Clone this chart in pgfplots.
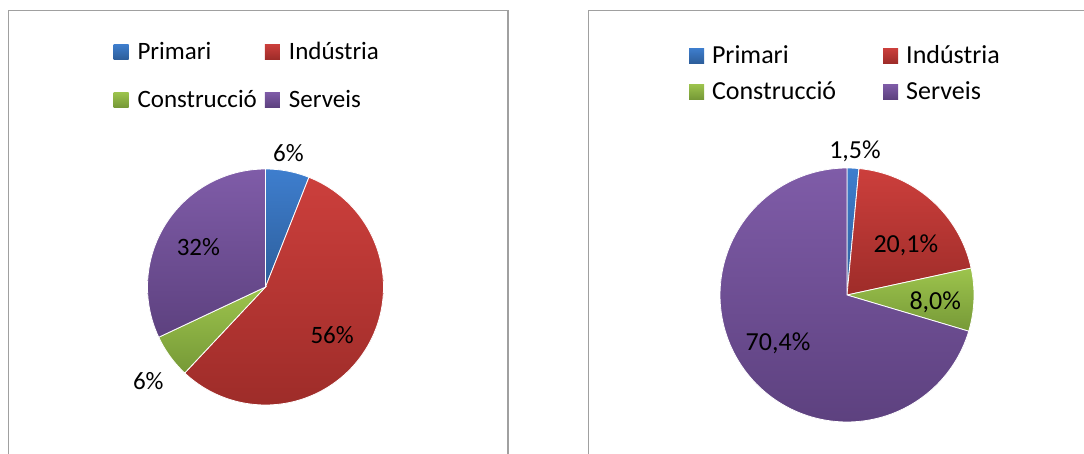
\documentclass[border=0pt]{standalone}
\usepackage{pgfplots}
\pgfplotsset{compat=1.18}
\usepackage{pgfplotstable}
\usepackage{fontspec}
\setmainfont{Carlito}

\definecolor{priT}{HTML}{3E7ECE}
\definecolor{priB}{HTML}{2D5E9B}
\definecolor{indT}{HTML}{CC3F3C}
\definecolor{indB}{HTML}{9E2C29}
\definecolor{conT}{HTML}{9DC44D}
\definecolor{conB}{HTML}{769937}
\definecolor{serT}{HTML}{7F5CA8}
\definecolor{serB}{HTML}{5D417F}
\definecolor{frame}{HTML}{A0A0A0}

\tikzset{
 slice0/.style={top color=priT,bottom color=priB},
 slice1/.style={top color=indT,bottom color=indB},
 slice2/.style={top color=conT,bottom color=conB},
 slice3/.style={top color=serT,bottom color=serB},
}

% value = share in percent; lx ly = label position (radius units)
\pgfplotstableread{
name value label lx ly
Primari 6 6 0.195 1.062
Indústria 56 56 0.565 -0.483
Construcció 6 6 -0.993 -0.867
Serveis 32 32 -0.569 0.271
}\leftdata

\pgfplotstableread{
name value label lx ly
Primari 1.5 1,5 0.063 1.071
Indústria 20.1 20,1 0.463 0.333
Construcció 8.0 8,0 0.695 -0.118
Serveis 70.4 70,4 -0.543 -0.439
}\rightdata

\newcommand\drawpie[1]{%
 \pgfplotstablegetrowsof{#1}%
 \pgfmathtruncatemacro\pieN{\pgfplotsretval-1}%
 \def\cum{0}%
 \pgfplotsforeachungrouped \sliceidx in {0,...,\pieN}{%
   \pgfplotstablegetelem{\sliceidx}{value}\of{#1}\let\pval\pgfplotsretval
   \pgfplotstablegetelem{\sliceidx}{name}\of{#1}\let\pnm\pgfplotsretval
   \pgfplotstablegetelem{\sliceidx}{label}\of{#1}\let\plab\pgfplotsretval
   \pgfplotstablegetelem{\sliceidx}{lx}\of{#1}\let\plx\pgfplotsretval
   \pgfplotstablegetelem{\sliceidx}{ly}\of{#1}\let\ply\pgfplotsretval
   \pgfmathsetmacro\psa{90-3.6*\cum}%
   \pgfmathsetmacro\cum{\cum+\pval}%
   \pgfmathsetmacro\psb{90-3.6*\cum}%
   \edef\temp{%
     \noexpand\addplot[slice\sliceidx,draw=white,line width=0.8pt,domain=\psb:\psa,samples=120] ({cos(x)},{sin(x)}) -- (axis cs:0,0) -- cycle;
     \noexpand\addlegendentry{\pnm}
     \noexpand\node[anchor=base] at (axis cs:\plx,\ply) {\plab\noexpand\%};
   }\temp
 }%
}

\pgfplotsset{
 pieaxis/.style={
  hide axis, scale only axis, clip=false,
  xmin=-1,xmax=1,ymin=-1,ymax=1,
  legend columns=2,
  legend cell align=left,
  legend image code/.code={\path[##1,draw=none] (0pt,-6pt) rectangle (15pt,9pt);},
 }
}

\begin{document}
\begin{tikzpicture}[font=\fontsize{25}{30}\selectfont]
\path[use as bounding box] (0,0) rectangle (1084pt,453pt);
\draw[frame,line width=1.5pt] (8.5pt,442.5pt) rectangle (508pt,-20pt);
\draw[frame,line width=1.5pt] (588.5pt,442.5pt) rectangle (1110pt,-20pt);

\begin{axis}[pieaxis,
  width=236pt,height=236pt,
  at={(265.5pt,166pt)},anchor=center,
  legend style={draw=none,fill=none,at={(-0.144,1.542)},anchor=north west,
    inner sep=0pt,outer sep=0pt,row sep=24pt,
    nodes={inner sep=0pt,text height=18pt,text depth=6pt},
    /tikz/every odd column/.append style={column sep=9pt},
    /tikz/every even column/.append style={column sep=8pt}},
]
\drawpie{\leftdata}
\end{axis}

\begin{axis}[pieaxis,
  width=254pt,height=254pt,
  at={(847pt,158pt)},anchor=center,
  font=\fontsize{26}{31}\selectfont,
  legend style={draw=none,fill=none,at={(-0.122,1.484)},anchor=north west,
    inner sep=0pt,outer sep=0pt,row sep=12pt,
    font=\fontsize{26}{31}\selectfont,
    nodes={inner sep=0pt,text height=18pt,text depth=6pt},
    /tikz/every odd column/.append style={column sep=8pt},
    /tikz/every even column/.append style={column sep=47pt}},
]
\drawpie{\rightdata}
\end{axis}
\end{tikzpicture}
\end{document}
